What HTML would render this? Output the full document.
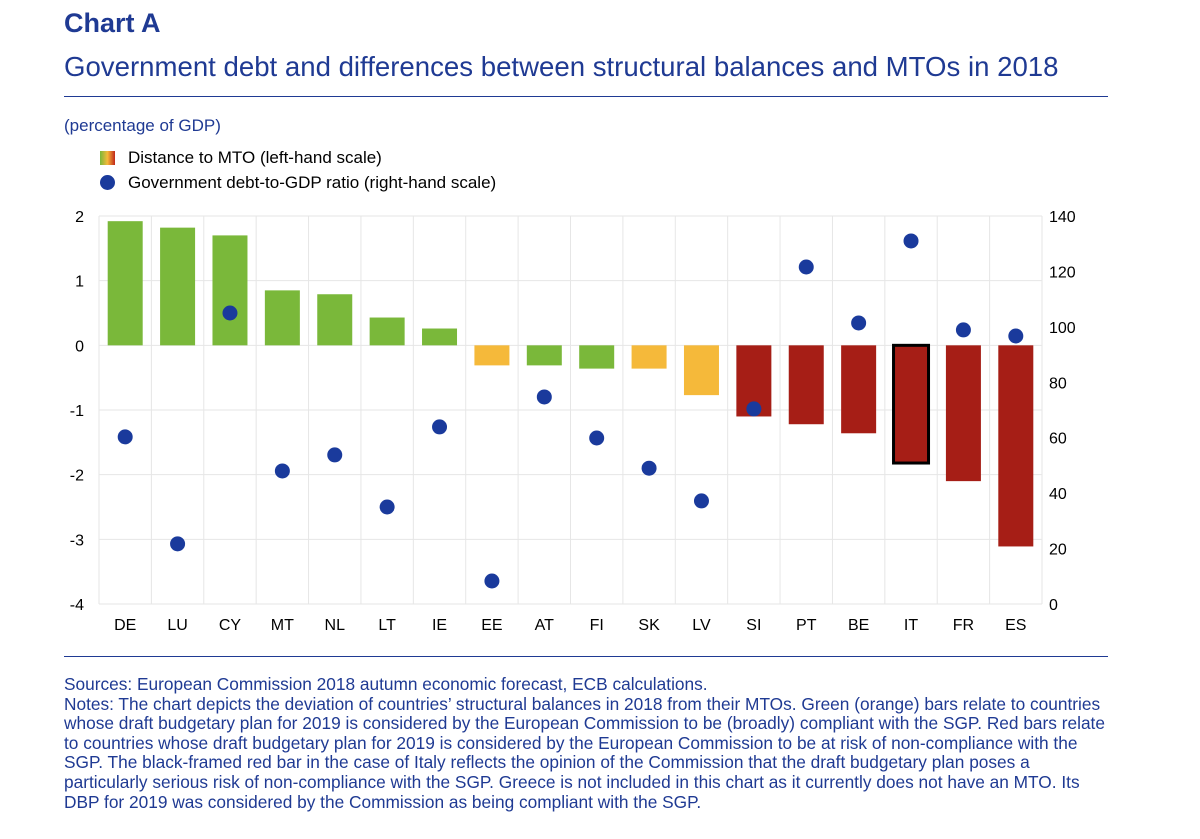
<!DOCTYPE html>
<html><head><meta charset="utf-8"><style>
body{margin:0;background:#fff;font-family:"Liberation Sans",sans-serif;color:#1f3a93;}
.t{position:absolute;white-space:nowrap;}
</style></head><body>
<div style="position:relative;width:1200px;height:839px;overflow:hidden">
<div class="t" style="left:64px;top:8px;font-size:27px;font-weight:bold">Chart A</div>
<div class="t" style="left:64px;top:51px;font-size:27.6px">Government debt and differences between structural balances and MTOs in 2018</div>
<div style="position:absolute;left:64px;top:96px;width:1044px;height:1px;background:#1f3a93"></div>
<div class="t" style="left:64px;top:116px;font-size:17px">(percentage of GDP)</div>
<div style="position:absolute;left:100px;top:151px;width:15px;height:14px;background:linear-gradient(90deg,#7ab83a,#f5b93a,#c0261a)"></div>
<div class="t" style="left:128px;top:148px;font-size:17px;color:#000">Distance to MTO (left-hand scale)</div>
<div style="position:absolute;left:100px;top:175px;width:15px;height:15px;border-radius:50%;background:#1a3a9c"></div>
<div class="t" style="left:128px;top:173px;font-size:17px;color:#000">Government debt-to-GDP ratio (right-hand scale)</div>
<svg id="chart" width="1200" height="839" style="position:absolute;left:0;top:0"></svg>
<div style="position:absolute;left:64px;top:656px;width:1044px;height:1px;background:#1f3a93"></div>
<div class="t" style="left:64px;top:675px;font-size:17.3px;line-height:19.6px">Sources: European Commission 2018 autumn economic forecast, ECB calculations.<br>Notes: The chart depicts the deviation of countries’ structural balances in 2018 from their MTOs. Green (orange) bars relate to countries<br>whose draft budgetary plan for 2019 is considered by the European Commission to be (broadly) compliant with the SGP. Red bars relate<br>to countries whose draft budgetary plan for 2019 is considered by the European Commission to be at risk of non-compliance with the<br>SGP. The black-framed red bar in the case of Italy reflects the opinion of the Commission that the draft budgetary plan poses a<br>particularly serious risk of non-compliance with the SGP. Greece is not included in this chart as it currently does not have an MTO. Its<br>DBP for 2019 was considered by the Commission as being compliant with the SGP.</div>
</div>
<script>
const categories=["DE","LU","CY","MT","NL","LT","IE","EE","AT","FI","SK","LV","SI","PT","BE","IT","FR","ES"];
const distance=[1.92,1.82,1.70,0.85,0.79,0.43,0.26,-0.31,-0.31,-0.36,-0.36,-0.77,-1.10,-1.22,-1.36,-1.82,-2.10,-3.11];
const debt=[60.3,21.7,105,48,53.8,35,63.9,8.3,74.7,59.9,49,37.2,70.4,121.6,101.4,131,98.9,96.7];
const groups=["g","g","g","g","g","g","g","o","g","g","o","o","r","r","r","r","r","r"];
const leftTicks=[2,1,0,-1,-2,-3,-4];
const rightTicks=[140,120,100,80,60,40,20,0];
const NS="http://www.w3.org/2000/svg",svg=document.getElementById('chart');
const X0=99,X1=1042,T=216,B=604,bw=(X1-X0)/categories.length;
const yL=v=>T+(2-v)/6*(B-T), yR=v=>B-v/140*(B-T), xc=i=>X0+bw*(i+0.5);
const col={g:"#7ab83a",o:"#f5b93a",r:"#a61e16"};
function mk(t,a){const e=document.createElementNS(NS,t);for(const k in a)e.setAttribute(k,a[k]);svg.appendChild(e);return e;}
leftTicks.forEach(v=>{
 const l=mk('line',{x1:X0,x2:X1,y1:yL(v),y2:yL(v),stroke:"#e6e6e6"});
 
 const t=mk('text',{x:84,y:yL(v)+6,'text-anchor':'end','font-size':16,fill:'#000','font-family':'Liberation Sans'});t.textContent=v;
 
});
rightTicks.forEach(v=>{
 const t=mk('text',{x:1049,y:yR(v)+6,'font-size':16,fill:'#000','font-family':'Liberation Sans'});t.textContent=v;
 
});
for(let i=0;i<=categories.length;i++){const l=mk('line',{x1:X0+bw*i,x2:X0+bw*i,y1:T,y2:B,stroke:"#e6e6e6"});
 }
categories.forEach((c,i)=>{
 const v=distance[i],y0=yL(0),y1=yL(v);
 const r=mk('rect',{x:xc(i)-17.5,y:Math.min(y0,y1),width:35,height:Math.abs(y1-y0),fill:col[groups[i]]});
 if(c==="IT"){r.setAttribute('stroke','#000');r.setAttribute('stroke-width','3');}
 
 const t=mk('text',{x:xc(i),y:630,'text-anchor':'middle','font-size':16,fill:'#000','font-family':'Liberation Sans'});t.textContent=c;
 
});
categories.forEach((c,i)=>{
 const d=mk('circle',{cx:xc(i),cy:yR(debt[i]),r:7.5,fill:"#1a3a9c"});
 
});
</script>
</body></html>
